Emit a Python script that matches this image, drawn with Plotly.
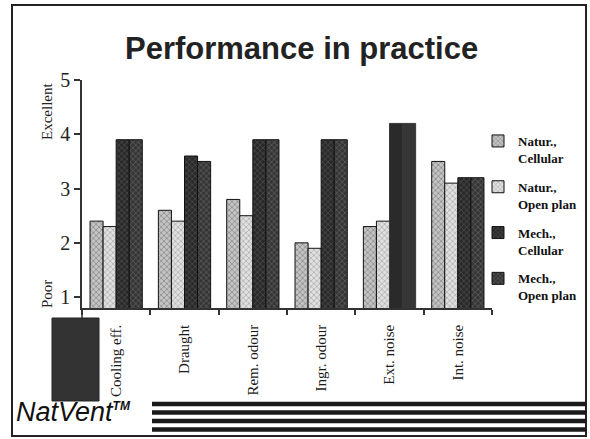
import plotly.graph_objects as go

categories = ["Cooling eff.", "Draught", "Rem. odour", "Ingr. odour", "Ext. noise", "Int. noise"]
natur_cellular = [2.4, 2.6, 2.8, 2.0, 2.3, 3.5]
natur_open = [2.3, 2.4, 2.5, 1.9, 2.4, 3.1]
mech_cellular = [3.9, 3.6, 3.9, 3.9, 4.2, 3.2]
mech_open = [3.9, 3.5, 3.9, 3.9, 4.2, 3.2]
y_ticks = [1, 2, 3, 4, 5]

W_PX, H_PX = 590, 439
L, R, T, B = 82, 492, 80, 308
PW, PH = R - L, B - T


def px(x):
    return (x - L) / PW


def py(y):
    return (B - y) / PH


serif = "Liberation Serif, Times New Roman, serif"
sans = "Liberation Sans, Arial, sans-serif"

fig = go.Figure()

series = [
    ("<b>Natur.,</b><br><b>Cellular</b>", natur_cellular, "#c4c4c4", "#4a4a4a", ["x"] * 6),
    ("<b>Natur.,</b><br><b>Open plan</b>", natur_open, "#e0e0e0", "#7a7a7a", ["x"] * 6),
    ("<b>Mech.,</b><br><b>Cellular</b>", mech_cellular, "#2a2a2a", "#6a6a6a", ["x", "x", "x", "x", "", "x"]),
    ("<b>Mech.,</b><br><b>Open plan</b>", mech_open, "#363636", "#808080", ["x", "x", "x", "x", "", "x"]),
]
for i, (name, vals, bg, fg, shapes) in enumerate(series):
    line_cols = ["#111"] * 6
    if i >= 2:
        line_cols[4] = "#3a3a3a"
    fig.add_trace(go.Bar(
        name=name, x=categories, y=vals,
        legendgroup=f"g{i}",
        marker=dict(
            color=bg,
            line=dict(color=line_cols, width=1),
            pattern=dict(shape=shapes, bgcolor=bg, fgcolor=fg, size=4, solidity=0.35, fillmode="overlay"),
        ),
    ))

fig.update_layout(
    width=W_PX, height=H_PX,
    margin=dict(l=L, r=W_PX - R, t=T, b=H_PX - B, pad=0, autoexpand=False),
    paper_bgcolor="white", plot_bgcolor="white",
    barmode="group", bargap=0.235, bargroupgap=0,
    showlegend=True,
    legend=dict(
        x=px(478), y=py(126), xanchor="left", yanchor="top",
        font=dict(family=serif, size=13, color="#111"),
        valign="top", tracegroupgap=9, bgcolor="rgba(0,0,0,0)",
    ),
    xaxis=dict(
        type="category", categoryorder="array", categoryarray=categories,
        range=[-0.5, 5.5], showline=True, linecolor="#333", linewidth=1.5,
        ticks="outside", tickson="boundaries", ticklen=5, tickcolor="#333", tickwidth=1.5,
        tickangle=-90, ticklabelstandoff=9,
        tickfont=dict(family=serif, size=15, color="#1a1a1a"),
        showgrid=False, zeroline=False,
    ),
    xaxis2=dict(
        overlaying="x", anchor="y", range=[-0.5, 5.5],
        tickvals=[-0.5, 0.5, 1.5, 2.5, 3.5, 4.5, 5.5],
        ticks="inside", ticklen=5, tickcolor="#333", tickwidth=1.5,
        showticklabels=False, showgrid=False, zeroline=False, showline=False,
    ),
    yaxis=dict(
        range=[0.8, 5.0], tickvals=y_ticks, showline=True, linecolor="#333", linewidth=1.5,
        ticks="outside", ticklen=6, tickcolor="#333", tickwidth=1.5,
        tickfont=dict(family=serif, size=20, color="#222"),
        showgrid=False, zeroline=False,
    ),
    yaxis2=dict(
        overlaying="y", anchor="x", side="left", range=[0.8, 5.0], tickvals=y_ticks,
        ticks="inside", ticklen=6, tickcolor="#333", tickwidth=1.5,
        showticklabels=False, showgrid=False, zeroline=False, showline=False,
    ),
)

annotations = [
    dict(text="<b>Performance in practice</b>", xref="paper", yref="paper",
         x=px(301), y=py(49), xanchor="center", yanchor="middle", showarrow=False,
         font=dict(family=sans, size=31, color="#222")),
    dict(text="Excellent", xref="paper", yref="paper", x=px(47), y=py(112),
         xanchor="center", yanchor="middle", textangle=-90, showarrow=False,
         font=dict(family=serif, size=15, color="#222")),
    dict(text="Poor", xref="paper", yref="paper", x=px(47), y=py(294),
         xanchor="center", yanchor="middle", textangle=-90, showarrow=False,
         font=dict(family=serif, size=15, color="#222")),
    dict(text="<i>NatVent</i><sup><i><b><span style='font-size:12px'>TM</span></b></i></sup>",
         xref="paper", yref="paper",
         x=px(14), y=py(412), xanchor="left", yanchor="middle", showarrow=False,
         font=dict(family=sans, size=27, color="#111")),
]
fig.update_layout(annotations=annotations)

shapes = [
    # outer frame
    dict(type="rect", xref="paper", yref="paper", x0=px(12), x1=px(586), y0=py(436), y1=py(5),
         line=dict(color="#222", width=2), fillcolor="rgba(0,0,0,0)", layer="above"),
    # y-axis extension below x-axis
    dict(type="line", xref="paper", yref="paper", x0=0, x1=0, y0=py(308), y1=py(320),
         line=dict(color="#333", width=1.5)),
    # dark logo block
    dict(type="rect", xref="paper", yref="paper", x0=px(52), x1=px(99), y0=py(401), y1=py(318),
         line=dict(color="#222", width=1), fillcolor="#333333"),
]
for yc in [404, 412.5, 421, 429.5]:
    shapes.append(dict(type="rect", xref="paper", yref="paper", x0=px(152), x1=px(586),
                       y0=py(yc + 2.2), y1=py(yc - 2.2), line=dict(width=0), fillcolor="#1a1a1a"))
fig.update_layout(shapes=shapes)

fig.write_html("out.html", config={"displayModeBar": False},
               post_script="document.body.style.margin='0';document.body.style.overflow='hidden';")
